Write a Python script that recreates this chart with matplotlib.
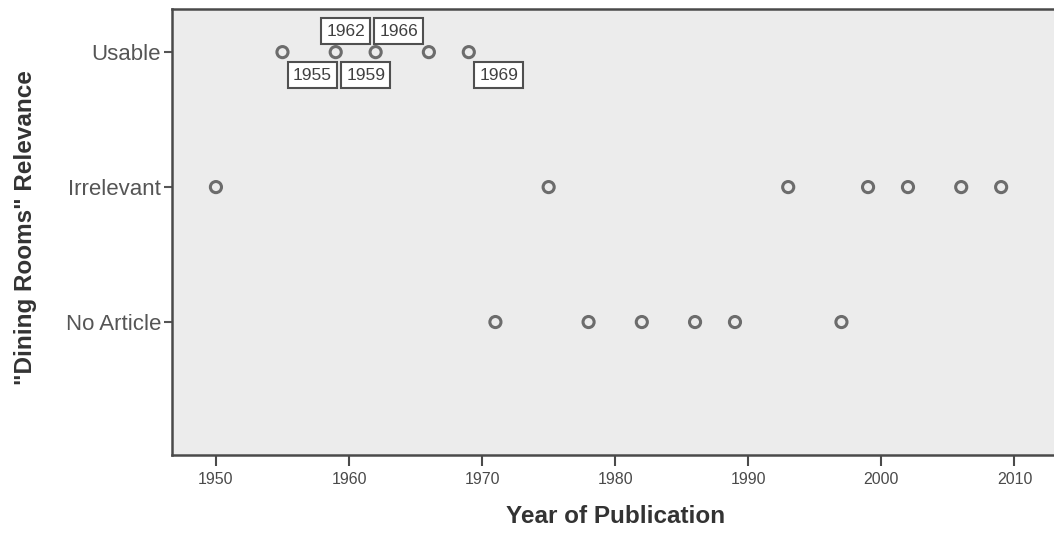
import numpy as np
import matplotlib
matplotlib.use('Agg')
import matplotlib.pyplot as plt

# categories on the y axis (bottom to top)
categories = ['No Article', 'Irrelevant', 'Usable']

usable_years = [1955, 1959, 1962, 1966, 1969]
irrelevant_years = [1950, 1975, 1993, 1999, 2002, 2006, 2009]
noarticle_years = [1971, 1978, 1982, 1986, 1989, 1997]

# labelled points (only the "Usable" ones carry year labels)
label_years = [1955, 1959, 1962, 1966, 1969]
label_side = ['lr', 'lr', 'ul', 'ul', 'lr']

xticks = [1950, 1960, 1970, 1980, 1990, 2000, 2010]

plt.rcParams['font.family'] = ['Liberation Sans', 'DejaVu Sans']

fig = plt.figure(figsize=(10.54, 5.34), dpi=100)
ax = fig.add_axes([0.1632, 0.148, 0.846, 0.835])
ax.set_facecolor('#ececec')

series = [noarticle_years, irrelevant_years, usable_years]
for i, yrs in enumerate(series):
    ax.scatter(yrs, np.full(len(yrs), i + 1), s=64, facecolors='none',
               edgecolors='#6c6c6c', linewidths=2.2, zorder=3)

for yr, side in zip(label_years, label_side):
    if side == 'ul':
        off = (-30, 21)
    else:
        off = (30, -23)
    ax.annotate(str(yr), (yr, 3), xytext=off, textcoords='offset pixels',
                ha='center', va='center', fontsize=12.5, color='#404040',
                bbox=dict(boxstyle='square,pad=0.3', fc='white',
                          ec='#505050', lw=1.5), zorder=4)

ax.set_xlim(1946.7, 2013.7)
ax.set_ylim(0.015, 3.319)
ax.set_yticks([1, 2, 3])
ax.set_yticklabels(categories)
ax.set_xticks(xticks)
ax.set_xticklabels([str(t) for t in xticks])

ax.tick_params(axis='y', labelsize=16, colors='#555555', length=6,
               width=1.5, pad=2)
ax.tick_params(axis='x', labelsize=11.5, colors='#4a4a4a', length=8,
               width=1.5, pad=4)

for s in ax.spines.values():
    s.set_color('#4a4a4a')
    s.set_linewidth(1.8)

ax.set_xlabel('Year of Publication', fontsize=17.5, fontweight='bold',
              color='#333333')
ax.xaxis.set_label_coords(0.497, -0.113)
ax.set_ylabel('"Dining Rooms" Relevance', fontsize=17.5, fontweight='bold',
              color='#333333')
ax.yaxis.set_label_coords(-0.151, 0.509)

fig.savefig('out.png', dpi=100)
